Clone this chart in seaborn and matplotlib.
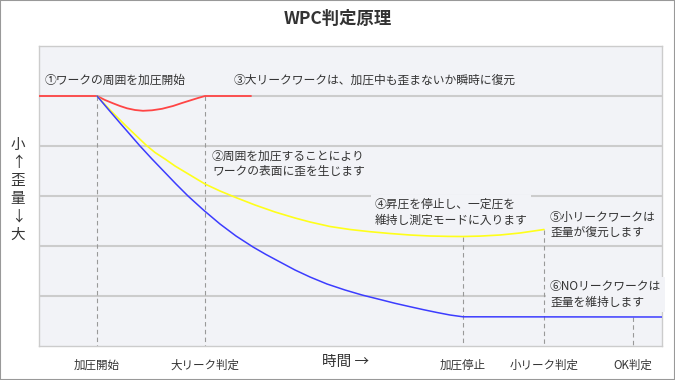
import matplotlib
matplotlib.use("Agg")
import matplotlib.pyplot as plt
import seaborn as sns
from matplotlib.patches import Rectangle
import matplotlib.transforms as mtransforms

# ---------------- data (time units along x, strain units downward) ----------------
title = "WPC判定原理"
y_label = "小\n↑\n歪\n量\n↓\n大"
x_label = "時間 →"

event_labels = ["加圧開始", "大リーク判定", "加圧停止", "小リーク判定", "OK判定"]
event_times = [58, 166, 424, 505, 594]
event_start = [50, 50, 190.5, 183.5, 271]   # curve value where each marker line begins

# large-leak work (red)
red_t = [0, 58, 66, 74, 81, 88, 96, 104, 113, 123, 134, 143, 151, 159, 166, 212]
red_s = [50, 50, 54, 57.3, 60, 62.3, 64, 64.8, 64.3, 62.8, 60, 57, 54.5, 52, 50, 50]

# small-leak work (yellow)
yel_t = [58, 71, 86, 97, 107, 116, 126, 136, 146, 156, 166, 181, 198, 216, 236, 256,
         271, 291, 311, 331, 351, 371, 391, 410, 424, 441, 461, 481, 505]
yel_s = [50, 64, 79, 89.5, 99, 106.5, 113, 120, 126, 132, 138, 145, 152, 159, 166, 172,
         176, 180.5, 183.5, 185.7, 187.5, 189, 190, 190.4, 190.5, 190.1, 189, 187, 183.5]

# no-leak work (blue)
blu_t = [58, 69, 81, 91, 101, 113, 125, 137, 149, 165, 181, 197, 214, 227, 241, 256,
         271, 288, 306, 323, 341, 356, 371, 385, 398, 411, 424, 623]
blu_s = [50, 63, 77, 88.5, 100, 113, 125.5, 138, 150, 164.5, 178, 190, 201, 208.5, 216,
         224, 231, 238, 244, 249, 253.5, 257.3, 260.7, 263.8, 266.5, 269, 270.8, 271]

grid_levels = [50, 100, 150, 200, 250]

notes = [
    ("①ワークの周囲を加圧開始", 6, 34, False),
    ("③大リークワークは、加圧中も歪まないか瞬時に復元", 195, 34, False),
    ("②周囲を加圧することにより\nワークの表面に歪を生じます", 173, 118, False),
    ("④昇圧を停止し、一定圧を\n維持し測定モードに入ります", 336, 166.5, True),
    ("⑤小リークワークは\n歪量が復元します", 511, 179, False),
    ("⑥NOリークワークは\n歪量を維持します", 511, 248.5, True),
]

# ---------------- style ----------------
sns.set_theme(style="white")
plt.rcParams["font.family"] = ["Noto Sans CJK JP", "DejaVu Sans"]

W, H = 675, 380
fig = plt.figure(figsize=(W / 100, H / 100), dpi=100)
bg = "#F2F3F7"
ax = fig.add_axes([39 / W, 1 - 346 / H, 623 / W, 300 / H])
ax.set_facecolor(bg)

ax.set_xlim(0, 623)
ax.set_ylim(300, 0)

# gridlines
ax.set_yticks(grid_levels)
ax.set_yticklabels([])
ax.yaxis.grid(True, color="#CCCCCC", linewidth=1.5, zorder=0)
ax.xaxis.grid(False)
ax.set_axisbelow(True)
for sp in ax.spines.values():
    sp.set_color("#CCCCCC")
    sp.set_linewidth(1.0)

# event marker lines
ax.vlines(event_times, event_start, 300, colors="#999999", linewidth=0.8,
          linestyles=(0, (4, 3)), zorder=4)

# curves
sns.lineplot(x=red_t, y=red_s, ax=ax, color="#FF4545", linewidth=1.3,
             sort=False, estimator=None, zorder=5)
sns.lineplot(x=yel_t, y=yel_s, ax=ax, color="#FFFF1A", linewidth=1.2,
             sort=False, estimator=None, zorder=5)
sns.lineplot(x=blu_t, y=blu_s, ax=ax, color="#3C3CFF", linewidth=1.1,
             sort=False, estimator=None, zorder=5)

# annotations
for txt, tx, ty, boxed in notes:
    kw = dict(ha="left", va="center", fontsize=8.5, color="#333333",
              linespacing=1.25, zorder=3)
    if boxed:
        kw["bbox"] = dict(boxstyle="square,pad=0.3", facecolor=bg, edgecolor="none")
    ax.text(tx, ty, txt, **kw)

# x ticks
ax.set_xticks(event_times)
ax.set_xticklabels(event_labels, fontsize=8.3, color="#333333")
ax.tick_params(axis="both", length=0)
ax.tick_params(axis="x", pad=9)

# x-axis label (inline with tick labels)
trans = mtransforms.blended_transform_factory(ax.transData, ax.transAxes)
ax.text(307, -16 / 300, x_label, transform=trans, ha="center", va="center",
        fontsize=10.5, color="#333333")

# title and y label
fig.text(0.5, 1 - 19 / H, title, ha="center", va="center", fontsize=12.5,
         fontweight="bold", color="#333333")
fig.text(18 / W, 1 - 190 / H, y_label, ha="center", va="center", fontsize=10.5,
         color="#333333", linespacing=1.35)

# outer frame
fig.patches.append(Rectangle((0, 0), 1, 1, transform=fig.transFigure, fill=False,
                             edgecolor="#999999", linewidth=1.5))

fig.savefig("out.png", dpi=100, facecolor="white")
